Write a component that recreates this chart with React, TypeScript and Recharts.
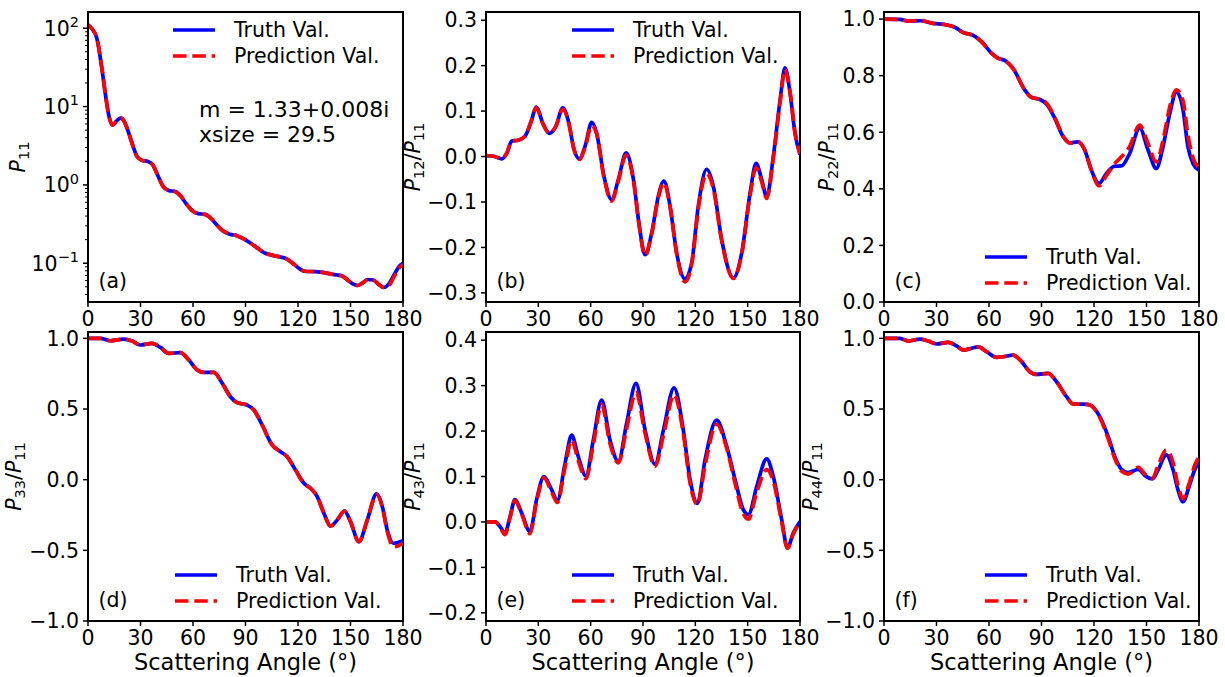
import React from 'react';
import { LineChart, Line, XAxis, YAxis, Legend, Label, ReferenceArea } from 'recharts';

const FONT = '"DejaVu Sans", Verdana, sans-serif';
const TRUTH_COLOR = '#0000ff';
const PRED_COLOR = '#ff0000';
const LINE_W = 3.7;
const DASH = '13.5 5.8';
const TICK_FS = 20.5;

// (a) P11, log scale
const p11Angle = [0, 2, 5, 8, 10, 12, 14, 16.5, 18.7, 21, 23, 26, 28, 31, 34, 37, 40, 43, 46, 50, 53, 56, 60, 63, 67, 70, 73, 77, 81, 85, 89, 93, 97, 101, 105, 110, 113, 117, 120, 124, 130, 135, 140, 145, 148, 151, 154, 157, 160, 163, 166, 169, 172, 175, 178, 180];
const p11Truth = [110, 100, 75, 30, 14, 7.5, 5.8, 6.6, 7.1, 6.3, 4.8, 3.0, 2.3, 2.05, 2.0, 1.8, 1.3, 0.95, 0.85, 0.82, 0.72, 0.58, 0.46, 0.43, 0.42, 0.38, 0.32, 0.26, 0.235, 0.225, 0.205, 0.18, 0.155, 0.135, 0.127, 0.12, 0.115, 0.1, 0.088, 0.079, 0.078, 0.076, 0.072, 0.069, 0.062, 0.055, 0.052, 0.056, 0.062, 0.061, 0.054, 0.049, 0.055, 0.072, 0.092, 0.1];
const p11Pred = [110, 100, 75, 30, 14, 7.5, 5.8, 6.6, 7.1, 6.3, 4.8, 3.0, 2.3, 2.05, 2.0, 1.8, 1.3, 0.95, 0.85, 0.82, 0.72, 0.58, 0.46, 0.43, 0.42, 0.38, 0.32, 0.26, 0.235, 0.225, 0.205, 0.18, 0.155, 0.135, 0.127, 0.12, 0.115, 0.1, 0.088, 0.079, 0.078, 0.076, 0.072, 0.069, 0.062, 0.055, 0.052, 0.056, 0.062, 0.061, 0.054, 0.049, 0.052, 0.068, 0.088, 0.095];

// (b) P12/P11
const p12Angle = [0, 5, 9, 12, 14.7, 18.5, 22.4, 26.2, 28.7, 32.9, 36.3, 40.1, 44, 47.2, 50.5, 53.5, 56.8, 60.6, 63.4, 67.6, 72, 75.9, 80.3, 84.5, 87.9, 91.2, 95, 98.8, 102, 105.5, 109.3, 114.1, 117.9, 121.7, 126.5, 130.3, 135.1, 141.8, 146.6, 151.4, 154.8, 158, 160.9, 164.7, 168.6, 171.4, 174.3, 177.1, 180];
const p12Truth = [0.002, 0.0, -0.005, 0.008, 0.034, 0.036, 0.045, 0.081, 0.109, 0.07, 0.051, 0.067, 0.107, 0.078, 0.015, -0.005, 0.023, 0.075, 0.052, -0.043, -0.095, -0.05, 0.008, -0.05, -0.153, -0.216, -0.168, -0.087, -0.054, -0.109, -0.212, -0.269, -0.234, -0.109, -0.028, -0.065, -0.183, -0.267, -0.212, -0.08, -0.015, -0.05, -0.089, 0.0, 0.125, 0.195, 0.14, 0.052, 0.004];
const p12Pred = [0.002, 0.0, -0.005, 0.008, 0.034, 0.036, 0.045, 0.081, 0.107, 0.07, 0.051, 0.067, 0.104, 0.078, 0.015, -0.006, 0.02, 0.068, 0.05, -0.045, -0.098, -0.053, 0.003, -0.052, -0.155, -0.218, -0.17, -0.09, -0.058, -0.11, -0.214, -0.276, -0.238, -0.115, -0.038, -0.07, -0.185, -0.268, -0.214, -0.085, -0.025, -0.055, -0.092, -0.004, 0.12, 0.192, 0.142, 0.055, 0.006];

// (c) P22/P11
const p22Angle = [0, 9, 14, 20.5, 28, 36, 40.5, 45.3, 51, 55.7, 61.5, 65.3, 69, 73.8, 80.5, 84.3, 89, 93, 97.6, 102.4, 106.2, 110.9, 114.7, 118.5, 122.9, 127.1, 131.9, 135.7, 140.4, 146.1, 150.9, 155.6, 159.4, 163.3, 167.1, 170.9, 173.7, 176.6, 180];
const p22Truth = [1.0, 0.999, 0.993, 0.994, 0.985, 0.979, 0.971, 0.952, 0.942, 0.92, 0.879, 0.861, 0.854, 0.825, 0.749, 0.723, 0.716, 0.699, 0.649, 0.584, 0.5625, 0.566, 0.537, 0.466, 0.419, 0.454, 0.48, 0.481, 0.525, 0.615, 0.537, 0.472, 0.548, 0.666, 0.743, 0.678, 0.548, 0.489, 0.466];
const p22Pred = [1.0, 0.999, 0.993, 0.995, 0.985, 0.979, 0.971, 0.952, 0.942, 0.92, 0.879, 0.861, 0.854, 0.825, 0.749, 0.723, 0.716, 0.702, 0.652, 0.586, 0.562, 0.566, 0.537, 0.466, 0.41, 0.447, 0.49, 0.513, 0.55, 0.625, 0.56, 0.495, 0.57, 0.69, 0.75, 0.71, 0.59, 0.51, 0.475];

// (d) P33/P11
const p33Angle = [0, 7, 12.8, 20.4, 25.2, 29.9, 36.6, 41.4, 46.1, 52.8, 57.6, 62.4, 66.2, 71.9, 76.7, 81.4, 85.2, 91, 94.8, 99.5, 105.3, 110, 113.8, 118.6, 123.4, 127.2, 131, 134.8, 138.6, 142.4, 146.6, 150, 154.8, 159.6, 164.9, 168.2, 171, 174.5, 180];
const p33Truth = [1.0, 1.0, 0.983, 0.995, 0.981, 0.953, 0.965, 0.936, 0.894, 0.899, 0.847, 0.776, 0.759, 0.759, 0.682, 0.587, 0.545, 0.528, 0.493, 0.387, 0.245, 0.198, 0.163, 0.068, -0.026, -0.061, -0.12, -0.238, -0.328, -0.285, -0.222, -0.297, -0.439, -0.285, -0.101, -0.191, -0.356, -0.45, -0.432];
const p33Pred = [1.0, 1.0, 0.983, 0.995, 0.981, 0.953, 0.965, 0.936, 0.894, 0.899, 0.847, 0.776, 0.759, 0.759, 0.682, 0.587, 0.545, 0.528, 0.493, 0.387, 0.245, 0.198, 0.163, 0.068, -0.026, -0.061, -0.12, -0.238, -0.328, -0.285, -0.222, -0.297, -0.439, -0.285, -0.105, -0.195, -0.365, -0.475, -0.45];

// (e) P43/P11
const p43Angle = [0, 5.2, 8, 10.9, 13.8, 16.6, 20.4, 25.2, 29, 33.2, 37.6, 40.9, 45.3, 49.1, 52.9, 57.3, 61.5, 66.3, 71.1, 75.9, 80.6, 86, 91.2, 96.9, 101.7, 107.8, 113.1, 117, 121.2, 125.6, 132.2, 138, 142.8, 147.5, 150.4, 155.2, 160.9, 164.7, 169.5, 172.8, 176.2, 180];
const p43Truth = [0.0, 0.0, -0.01, -0.024, 0.012, 0.049, 0.02, -0.021, 0.049, 0.1, 0.071, 0.047, 0.129, 0.191, 0.144, 0.101, 0.18, 0.268, 0.18, 0.133, 0.217, 0.305, 0.202, 0.127, 0.202, 0.295, 0.202, 0.093, 0.041, 0.137, 0.224, 0.166, 0.093, 0.027, 0.016, 0.078, 0.139, 0.1, 0.005, -0.057, -0.024, 0.001];
const p43Pred = [0.0, 0.0, -0.011, -0.028, 0.01, 0.047, 0.018, -0.026, 0.045, 0.097, 0.066, 0.043, 0.12, 0.18, 0.135, 0.095, 0.17, 0.258, 0.172, 0.13, 0.205, 0.285, 0.195, 0.122, 0.19, 0.28, 0.195, 0.085, 0.038, 0.125, 0.215, 0.162, 0.085, 0.018, 0.006, 0.065, 0.115, 0.09, 0.0, -0.058, -0.026, 0.0];

// (f) P44/P11
const p44Angle = [0, 9.1, 13.9, 20.5, 25.3, 30.1, 36.7, 41.5, 45.3, 49.5, 53.8, 58.6, 64.3, 68.1, 73.8, 78.6, 83.3, 87.1, 93.8, 98.6, 104.3, 108.1, 113.8, 117.6, 123.3, 128.1, 131.9, 135.7, 139.5, 145.2, 149.9, 153.4, 156.6, 161.3, 165.2, 168, 170.9, 174.3, 177.5, 180];
const p44Truth = [1.0, 1.0, 0.981, 0.995, 0.981, 0.96, 0.972, 0.946, 0.917, 0.928, 0.94, 0.906, 0.866, 0.87, 0.882, 0.835, 0.764, 0.745, 0.752, 0.693, 0.587, 0.535, 0.535, 0.528, 0.446, 0.304, 0.163, 0.073, 0.05, 0.073, 0.021, 0.005, 0.068, 0.175, 0.068, -0.073, -0.156, -0.05, 0.068, 0.127];
const p44Pred = [1.0, 1.0, 0.981, 0.995, 0.981, 0.96, 0.972, 0.946, 0.917, 0.928, 0.94, 0.906, 0.866, 0.87, 0.882, 0.835, 0.764, 0.745, 0.752, 0.693, 0.587, 0.535, 0.535, 0.528, 0.44, 0.29, 0.15, 0.06, 0.04, 0.088, 0.03, 0.01, 0.1, 0.21, 0.12, -0.04, -0.135, -0.03, 0.1, 0.16];

const angleTicks = [0, 30, 60, 90, 120, 150, 180];
const p11Majors = [0.1, 1, 10, 100];
const p11Minors = [0.04, 0.05, 0.06, 0.07, 0.08, 0.09, 0.2, 0.3, 0.4, 0.5, 0.6, 0.7, 0.8, 0.9, 2, 3, 4, 5, 6, 7, 8, 9, 20, 30, 40, 50, 60, 70, 80, 90];
const p12Ticks = [-0.3, -0.2, -0.1, 0, 0.1, 0.2, 0.3];
const p22Ticks = [0, 0.2, 0.4, 0.6, 0.8, 1.0];
const unitTicks = [-1, -0.5, 0, 0.5, 1];
const p43Ticks = [-0.2, -0.1, 0, 0.1, 0.2, 0.3, 0.4];
const seriesOrder = ['truth', 'pred'];

type Row = { angle: number; truth: number; pred: number };
const toRows = (angle: number[], truth: number[], pred: number[]): Row[] =>
  angle.map((a, i) => ({ angle: a, truth: truth[i], pred: pred[i] }));

const fmt = (v: number) => (v < -1e-9 ? '\u2212' : '') + Math.abs(v).toFixed(1);

const AXIS_W = 88;
const TOP = 12;
const RIGHT = 22;

function LogTick(props: any) {
  const { x, y, payload } = props;
  const v = payload.value as number;
  const major = p11Majors.includes(v);
  const ax = x + 9;
  const exp = Math.round(Math.log10(v));
  return (
    <g>
      <line x1={ax - (major ? 5 : 3)} x2={ax} y1={y} y2={y} stroke="#000" strokeWidth={major ? 1.5 : 1} />
      {major && (
        <text x={x} y={y} dy="0.36em" textAnchor="end" fontSize={TICK_FS} fontFamily={FONT} fill="#000">
          10<tspan dy={-8.5} fontSize={14.5}>{exp < 0 ? '\u2212' + Math.abs(exp) : String(exp)}</tspan>
        </text>
      )}
    </g>
  );
}

function YTitle({ x, y, idx }: { x: number; y: number; idx: string }) {
  return (
    <text x={x} y={y} transform={`rotate(-90 ${x} ${y})`} textAnchor="middle" fontSize={20.5} fontFamily={FONT} fill="#000">
      <tspan fontStyle="italic">P</tspan>
      <tspan fontSize={14.5} dy={4}>{idx}</tspan>
      {idx !== '11' && (
        <>
          <tspan dy={-4}>/</tspan>
          <tspan fontStyle="italic">P</tspan>
          <tspan fontSize={14.5} dy={4}>11</tspan>
        </>
      )}
    </text>
  );
}

function LegendBox({ payload }: any) {
  const items = [...(payload || [])].sort(
    (a: any, b: any) => seriesOrder.indexOf(a.dataKey) - seriesOrder.indexOf(b.dataKey),
  );
  return (
    <svg width={220} height={50} style={{ display: 'block', overflow: 'visible' }}>
      {items.map((entry: any, i: number) => {
        const cy = 11 + i * 26;
        return (
          <g key={entry.value}>
            <line x1={0} x2={42} y1={cy} y2={cy} stroke={entry.color} strokeWidth={LINE_W} strokeDasharray={entry.payload?.strokeDasharray} />
            <text x={61} y={cy} dy="0.36em" fontSize={20.5} fontFamily={FONT} fill="#000">
              {entry.value}
            </text>
          </g>
        );
      })}
    </svg>
  );
}

type PanelSpec = {
  id: string;
  plotX: number;
  plotY: number;
  plotW: number;
  plotH: number;
  rows: Row[];
  yDomain: [number, number];
  yTicks: number[];
  log?: boolean;
  idx: string;
  titleX: number;
  letter: string;
  legendDx: number;
  legendDy: number;
  xTitle: boolean;
  note?: string[];
};

function Panel({ spec }: { spec: PanelSpec }) {
  const xh = spec.xTitle ? 56 : 30;
  const width = AXIS_W + spec.plotW + RIGHT;
  const height = TOP + spec.plotH + xh;

  const marks = (props: any) => {
    const vb = props.viewBox || { x: AXIS_W, y: TOP + spec.plotH, width: spec.plotW };
    return (
      <g fontFamily={FONT} fill="#000">
        <text x={vb.x + 10.5} y={vb.y - 14} fontSize={20.5}>
          ({spec.letter})
        </text>
        {spec.note &&
          spec.note.map((line, i) => (
            <text key={line} x={vb.x + 111} y={vb.y - spec.plotH + 105 + i * 25} fontSize={22}>
              {line}
            </text>
          ))}
        {spec.xTitle && (
          <text x={vb.x + vb.width / 2} y={vb.y + 49} textAnchor="middle" fontSize={22.5}>
            Scattering Angle (°)
          </text>
        )}
      </g>
    );
  };

  const title = (props: any) => {
    const vb = props.viewBox || { x: 0, y: TOP, height: spec.plotH };
    return <YTitle x={vb.x + spec.titleX} y={vb.y + vb.height / 2} idx={spec.idx} />;
  };

  return (
    <div style={{ position: 'absolute', left: spec.plotX - AXIS_W, top: spec.plotY - TOP }}>
      <LineChart width={width} height={height} data={spec.rows} margin={{ top: TOP, right: RIGHT, bottom: 0, left: 0 }}>
        <XAxis
          dataKey="angle"
          type="number"
          domain={[0, 180]}
          ticks={angleTicks}
          interval={0}
          allowDataOverflow
          height={xh}
          tickSize={5}
          tickMargin={4}
          tick={{ fill: '#000', fontSize: TICK_FS, fontFamily: FONT }}
          axisLine={{ stroke: '#000', strokeWidth: 2 }}
          tickLine={{ stroke: '#000', strokeWidth: 1.5 }}
        >
          <Label content={marks} />
        </XAxis>
        {spec.log ? (
          <YAxis
            type="number"
            scale="log"
            domain={spec.yDomain}
            ticks={spec.yTicks}
            interval={0}
            allowDataOverflow
            width={AXIS_W}
            tickSize={5}
            tickMargin={4}
            tick={(p: any) => <LogTick {...p} />}
            tickLine={false}
            axisLine={{ stroke: '#000', strokeWidth: 2 }}
          >
            <Label content={title} />
          </YAxis>
        ) : (
          <YAxis
            type="number"
            domain={spec.yDomain}
            ticks={spec.yTicks}
            interval={0}
            allowDataOverflow
            width={AXIS_W}
            tickSize={5}
            tickMargin={4}
            tickFormatter={fmt}
            tick={{ fill: '#000', fontSize: TICK_FS, fontFamily: FONT }}
            axisLine={{ stroke: '#000', strokeWidth: 2 }}
            tickLine={{ stroke: '#000', strokeWidth: 1.5 }}
          >
            <Label content={title} />
          </YAxis>
        )}
        <Legend
          layout="horizontal"
          verticalAlign="middle"
          align="center"
          content={<LegendBox />}
          wrapperStyle={{ left: AXIS_W + spec.legendDx, top: TOP + spec.legendDy - 11, width: 220, height: 50 }}
        />
        <Line
          type="monotone"
          dataKey="truth"
          name="Truth Val."
          stroke={TRUTH_COLOR}
          strokeWidth={LINE_W}
          dot={false}
          activeDot={false}
          isAnimationActive={false}
        />
        <Line
          type="monotone"
          dataKey="pred"
          name="Prediction Val."
          stroke={PRED_COLOR}
          strokeWidth={LINE_W}
          strokeDasharray={DASH}
          dot={false}
          activeDot={false}
          isAnimationActive={false}
        />
        <ReferenceArea
          x1={0}
          x2={180}
          y1={spec.yDomain[0]}
          y2={spec.yDomain[1]}
          fill="none"
          stroke="#000"
          strokeWidth={2}
          ifOverflow="visible"
        />
      </LineChart>
    </div>
  );
}

export default function App() {
  const panels: PanelSpec[] = [
    {
      id: 'a', plotX: 88, plotY: 12, plotW: 315, plotH: 290,
      rows: toRows(p11Angle, p11Truth, p11Pred),
      yDomain: [0.032, 161], yTicks: [...p11Minors, ...p11Majors], log: true,
      idx: '11', titleX: 25, letter: 'a', legendDx: 85, legendDy: 18, xTitle: false,
      note: ['m = 1.33+0.008i', 'xsize = 29.5'],
    },
    {
      id: 'b', plotX: 486, plotY: 12, plotW: 314, plotH: 290,
      rows: toRows(p12Angle, p12Truth, p12Pred),
      yDomain: [-0.32, 0.318], yTicks: p12Ticks,
      idx: '12', titleX: 21.5, letter: 'b', legendDx: 85.5, legendDy: 18, xTitle: false,
    },
    {
      id: 'c', plotX: 884, plotY: 12, plotW: 315, plotH: 290,
      rows: toRows(p22Angle, p22Truth, p22Pred),
      yDomain: [0, 1.025], yTicks: p22Ticks,
      idx: '22', titleX: 37.5, letter: 'c', legendDx: 101, legendDy: 244.5, xTitle: false,
    },
    {
      id: 'd', plotX: 88, plotY: 332, plotW: 315, plotH: 289,
      rows: toRows(p33Angle, p33Truth, p33Pred),
      yDomain: [-1, 1.045], yTicks: unitTicks,
      idx: '33', titleX: 21, letter: 'd', legendDx: 86.5, legendDy: 243, xTitle: true,
    },
    {
      id: 'e', plotX: 486, plotY: 332, plotW: 314, plotH: 289,
      rows: toRows(p43Angle, p43Truth, p43Pred),
      yDomain: [-0.218, 0.418], yTicks: p43Ticks,
      idx: '43', titleX: 21.5, letter: 'e', legendDx: 85.5, legendDy: 242.5, xTitle: true,
    },
    {
      id: 'f', plotX: 884, plotY: 332, plotW: 315, plotH: 289,
      rows: toRows(p44Angle, p44Truth, p44Pred),
      yDomain: [-1, 1.045], yTicks: unitTicks,
      idx: '44', titleX: 21.5, letter: 'f', legendDx: 101, legendDy: 242.5, xTitle: true,
    },
  ];

  return (
    <div
      style={{
        position: 'absolute',
        left: 0,
        top: 0,
        width: 1225,
        height: 677,
        background: '#fff',
        overflow: 'hidden',
        fontFamily: FONT,
      }}
    >
      {panels.map((p) => (
        <Panel key={p.id} spec={p} />
      ))}
    </div>
  );
}
